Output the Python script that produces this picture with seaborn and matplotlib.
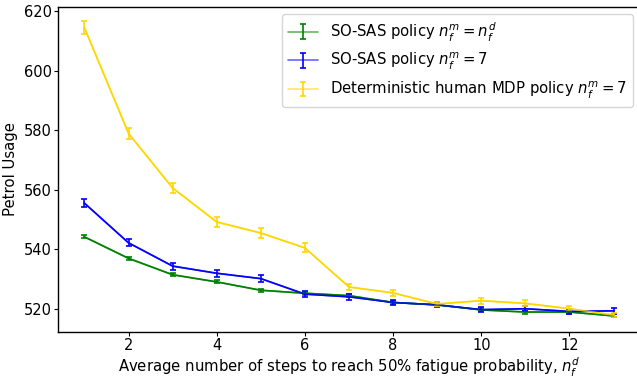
import matplotlib
matplotlib.use("Agg")
import matplotlib.pyplot as plt
import seaborn as sns
import pandas as pd
import numpy as np

steps = [1, 2, 3, 4, 5, 6, 7, 8, 9, 10, 11, 12, 13]
green_vals = [544.2, 537.0, 531.5, 529.1, 526.3, 525.3, 524.5, 522.2, 521.4, 519.7, 519.0, 519.0, 517.7]
green_err = [0.5, 0.5, 0.5, 0.5, 0.5, 0.5, 0.5, 0.5, 0.5, 0.5, 0.5, 0.5, 0.5]
blue_vals = [555.5, 542.2, 534.4, 532.0, 530.2, 525.0, 524.1, 522.2, 521.4, 519.8, 520.1, 519.2, 519.4]
blue_err = [1.3, 1.2, 1.2, 1.1, 1.1, 0.9, 1.0, 0.9, 0.8, 0.9, 0.9, 0.8, 1.0]
yellow_vals = [614.3, 578.9, 560.6, 549.2, 545.5, 540.5, 527.4, 525.4, 521.7, 522.8, 521.9, 520.1, 518.0]
yellow_err = [2.2, 1.8, 1.6, 1.6, 1.6, 1.5, 1.0, 1.0, 0.8, 1.0, 1.0, 0.8, 0.8]
labels = [r"SO-SAS policy $n_f^m = n_f^d$",
          r"SO-SAS policy $n_f^m = 7$",
          r"Deterministic human MDP policy $n_f^m = 7$"]
colors = ["green", "blue", "gold"]

sns.set_style("ticks")
plt.rcParams["font.family"] = ["DejaVu Sans"]
plt.rcParams["mathtext.fontset"] = "dejavusans"
plt.rcParams["text.color"] = "black"
plt.rcParams["axes.labelcolor"] = "black"
plt.rcParams["xtick.color"] = "black"
plt.rcParams["ytick.color"] = "black"

fig = plt.figure(figsize=(6.37, 3.81), dpi=100)
ax = fig.add_axes([58 / 637, 49 / 381, 582 / 637, 325 / 381])

series = [(green_vals, green_err), (blue_vals, blue_err), (yellow_vals, yellow_err)]
containers = []
for (vals, errs), c, lab in zip(series, colors, labels):
    df = pd.DataFrame({"x": steps, "y": vals})
    sns.lineplot(data=df, x="x", y="y", color=c, linewidth=1.2, ax=ax, legend=False)
    cont = ax.errorbar(steps, vals, yerr=errs, color=c, capsize=2, elinewidth=1.2,
                       capthick=1.2, linewidth=1.2, label=lab)
    cont.lines[0].set_alpha(0.6)
    containers.append(cont)

ax.set_xlim(0.4, 13.6)
ax.set_ylim(512.3, 621.3)
ax.set_xticks([2, 4, 6, 8, 10, 12])
ax.set_yticks([520, 540, 560, 580, 600, 620])
ax.tick_params(axis="both", labelsize=10.5, length=3, width=0.8, direction="out", pad=1.5,
               colors="black")
ax.set_xlabel(r"Average number of steps to reach 50% fatigue probability, $n_f^d$",
              fontsize=10.7, labelpad=2, color="black")
ax.set_ylabel("Petrol Usage", fontsize=10.7, labelpad=4, color="black")
for s in ax.spines.values():
    s.set_color("black")
    s.set_linewidth(1.0)

leg = ax.legend(handles=containers, labels=labels, loc="upper right", fontsize=10.7,
                framealpha=0.8, edgecolor="#cccccc", fancybox=True)
for t in leg.get_texts():
    t.set_color("black")

fig.savefig("out.png", dpi=100)
